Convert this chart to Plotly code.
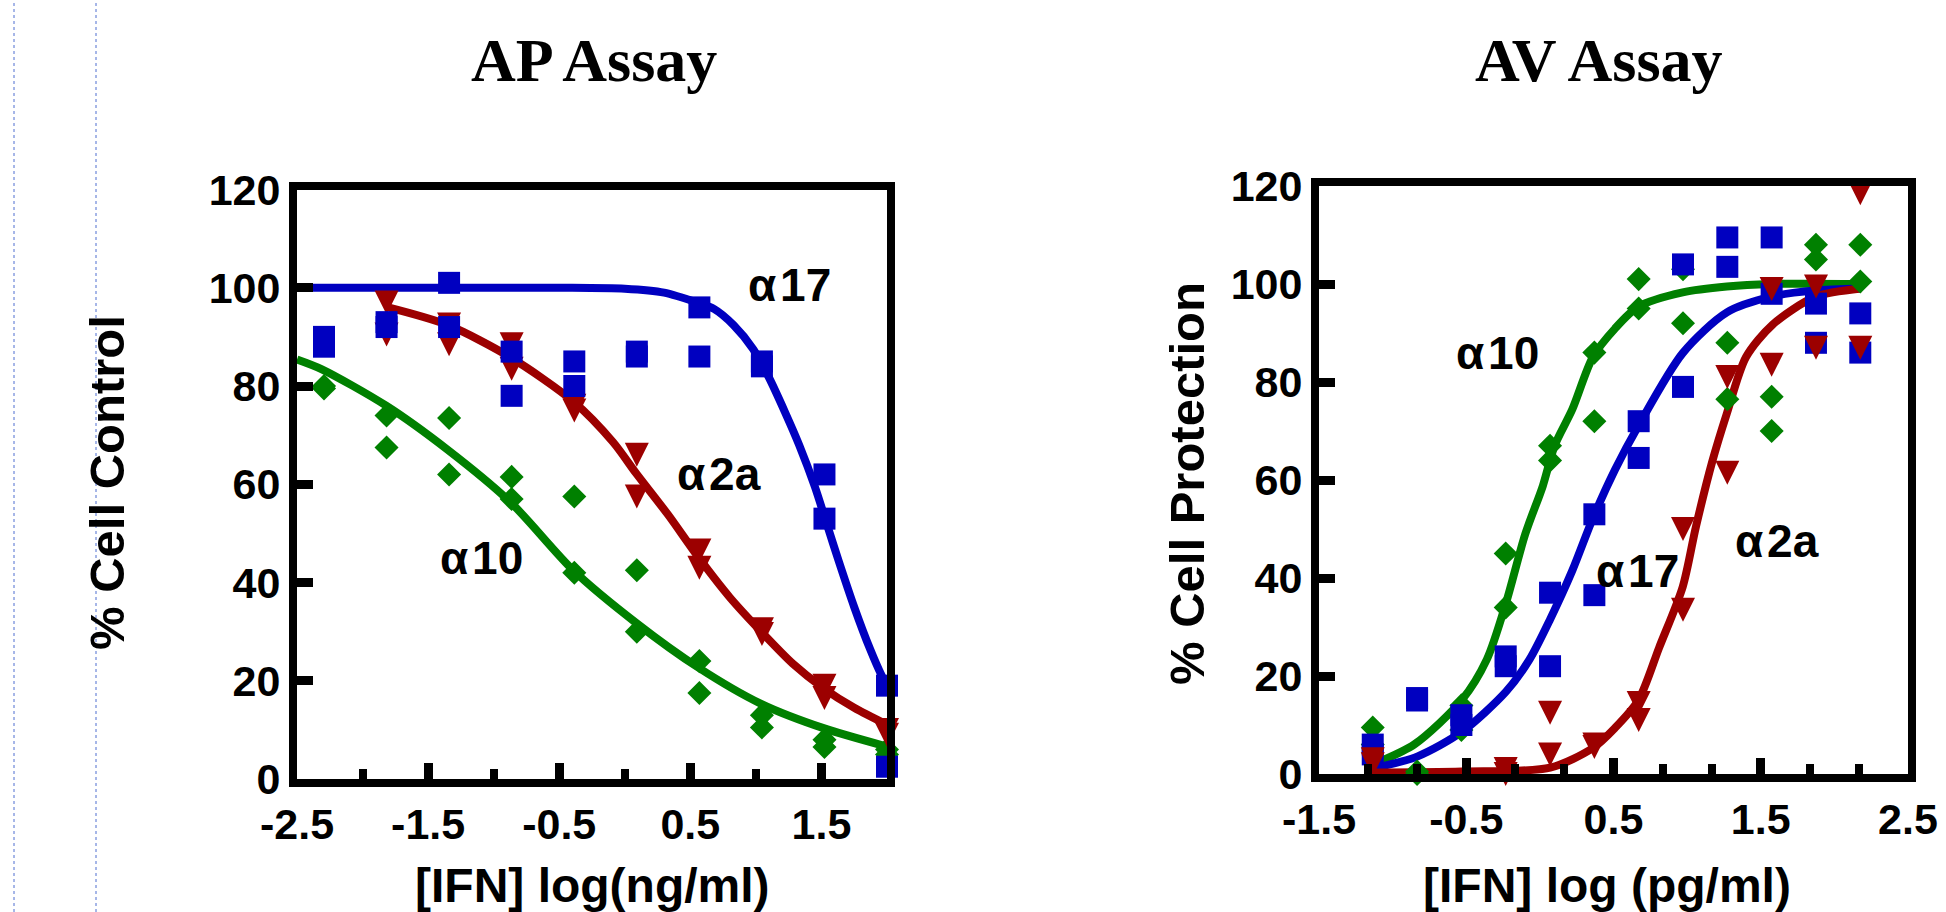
import plotly.graph_objects as go

W, H = 1946, 912

# ---------------- AP assay (3-fold dilutions, log ng/ml) ----------------
ap_doses = [-2.294, -1.817, -1.340, -0.863, -0.385, 0.092, 0.569, 1.046, 1.523, 2.0]

ap_a17_y = [(90, 88), (93, 92), (101, 92), (87, 78), (85, 80),
            (87, 86), (96, 86), (85, 84), (62, 53), (19, 2.5)]
ap_a2a_y = [None, (97, 90.5), (92.5, 88.5), (88.5, 83.5), (76, 75),
            (66, 57.5), (46.5, 43), (30.5, 29.5), (19, 16.5), (10, 9)]
ap_a10_y = [(80, 79.5), (74, 67.5), (73.5, 62), (61.5, 57), (57.5, 42),
            (42.5, 30), (24, 17.5), (13, 10.5), (8, 6.5), (6, 5)]

# fitted curves, sampled along the plotted fits
ap_a17_fit_x = [-2.5, -1.5, -0.5, 0.0, 0.3, 0.56, 0.68, 0.83, 0.98, 1.10, 1.22, 1.33, 1.45,
                1.54, 1.63, 1.75, 1.87, 1.96, 2.0]
ap_a17_fit_y = [100, 100, 100, 99.8, 99.0, 96.9, 95.7, 92.4, 87.5, 81.7, 74.8, 68.0, 59.5,
                52.0, 44.5, 35.0, 26.5, 21.0, 19.0]
ap_a2a_fit_x = [-1.82, -1.35, -0.87, -0.39, -0.09, 0.09, 0.33, 0.56, 0.80, 1.04, 1.28, 1.51,
                1.75, 2.02]
ap_a2a_fit_y = [96.1, 92.4, 85.8, 76.8, 68.6, 62.1, 53.8, 45.2, 37.0, 30.0, 23.5, 18.6,
                14.5, 10.8]
ap_a10_fit_x = [-2.5, -2.31, -1.82, -1.35, -0.87, -0.39, 0.09, 0.56, 1.04, 1.51, 2.04]
ap_a10_fit_y = [85.4, 83.4, 76.0, 67.0, 56.3, 42.4, 31.7, 22.7, 15.3, 10.4, 6.3]

ap_xticks = [-2.5, -1.5, -0.5, 0.5, 1.5]

# ---------------- AV assay (2-fold dilutions, log pg/ml) ----------------
av_doses = [-1.135, -0.834, -0.533, -0.232, 0.069, 0.370, 0.671, 0.972,
            1.273, 1.574, 1.875, 2.176]

av_a10_y = [(9.5, 6), (0, 0.5), (14, 9), (45, 34), (67, 64), (86, 72),
            (101, 95), (103, 92), (88, 76.5), (77, 70), (108, 105), (108, 100.5)]
av_a17_y = [(6, 4), (15.5, 15), (12, 10), (24, 22), (37, 22), (53, 36.5),
            (72, 64.5), (104, 79), (109.5, 103.5), (109.5, 98), (96, 88), (94, 86)]
av_a2a_y = [(3, 2), None, None, (1, 0), (12.5, 4), (6, 5.5),
            (14.5, 11), (50, 33.5), (81, 61.5), (99, 83.5), (99.5, 87), (118.5, 87)]

av_a10_fit_x = [-1.13, -0.85, -0.53, -0.36, -0.23, -0.10, 0.02, 0.10, 0.22, 0.36, 0.51,
                0.67, 0.97, 1.27, 1.57, 2.18]
av_a10_fit_y = [2.0, 6.1, 15.1, 23.4, 34.9, 48.9, 58.8, 67.0, 74.4, 85.1, 90.9,
                95.4, 98.3, 99.5, 100, 100]
av_a17_fit_x = [-1.13, -0.83, -0.53, -0.23, -0.07, 0.07, 0.22, 0.36, 0.51, 0.67, 0.97,
                1.27, 1.57, 1.87, 2.18]
av_a17_fit_y = [1.2, 3.6, 8.6, 16.8, 23.4, 31.6, 41.5, 52.2, 62.1, 71.1, 85.9,
                94.2, 97.4, 98.7, 99.1]
av_a2a_fit_x = [-1.13, -0.53, 0.07, 0.36, 0.51, 0.67, 0.81, 0.97, 1.06, 1.17, 1.27,
                1.40, 1.58, 1.87, 2.18]
av_a2a_fit_y = [0.3, 0.5, 1.3, 5.3, 9.4, 15.1, 25.8, 38.2, 50.5, 63.7, 73.6,
                85.1, 91.7, 97.4, 99.1]

av_xticks = [-1.5, -0.5, 0.5, 1.5, 2.5]
y_ticks = [0, 20, 40, 60, 80, 100, 120]

BLUE = "#0000C0"
RED = "#9C0000"
GREEN = "#008000"


def replicates(doses, pairs):
    xs, ys = [], []
    for d, p in zip(doses, pairs):
        if p is None:
            continue
        for v in p:
            xs.append(d)
            ys.append(v)
    return xs, ys


MARKERS = {
    "a17": dict(symbol="square", size=22, color=BLUE),
    "a10": dict(symbol="diamond", size=18.5, color=GREEN),
    "a2a": dict(symbol="arrow-down", size=24, color=RED, standoff=12),
}

fig = go.Figure()


def add_panel(xa, ya, doses, series, fits):
    for x, y, color in fits:
        fig.add_trace(go.Scatter(
            x=x, y=y, mode="lines", xaxis=xa, yaxis=ya,
            line=dict(color=color, width=8, shape="spline", smoothing=0.8),
            hoverinfo="skip", showlegend=False, cliponaxis=False))
    for key, pairs in series:
        xs, ys = replicates(doses, pairs)
        fig.add_trace(go.Scatter(
            x=xs, y=ys, mode="markers", xaxis=xa, yaxis=ya,
            marker=dict(line=dict(width=0), **MARKERS[key]),
            showlegend=False, cliponaxis=False))


add_panel("x", "y", ap_doses,
          [("a10", ap_a10_y), ("a2a", ap_a2a_y), ("a17", ap_a17_y)],
          [(ap_a10_fit_x, ap_a10_fit_y, GREEN),
           (ap_a2a_fit_x, ap_a2a_fit_y, RED),
           (ap_a17_fit_x, ap_a17_fit_y, BLUE)])
add_panel("x2", "y2", av_doses,
          [("a10", av_a10_y), ("a17", av_a17_y), ("a2a", av_a2a_y)],
          [(av_a10_fit_x, av_a10_fit_y, GREEN),
           (av_a17_fit_x, av_a17_fit_y, BLUE),
           (av_a2a_fit_x, av_a2a_fit_y, RED)])

TICK_FONT = dict(family="Liberation Sans, Arial, sans-serif", size=43, color="black",
                 weight="bold")
LW = 8


def px_dom_x(a, b):
    return [a / W, b / W]


def px_dom_y(top, bottom):
    return [1 - bottom / H, 1 - top / H]


def tick_text(vals):
    # plain hyphen-minus labels
    return [f"{v:g}" for v in vals]


common_axis = dict(showline=True, linecolor="black", linewidth=LW, mirror=True,
                   showgrid=False, zeroline=False, ticks="inside", tickcolor="black",
                   tickwidth=9, ticklen=16, tickfont=TICK_FONT, automargin=False,
                   fixedrange=True, tickmode="array")

fig.update_layout(
    width=W, height=H,
    margin=dict(l=0, r=0, t=0, b=0),
    paper_bgcolor="white", plot_bgcolor="white",
    showlegend=False,
    xaxis=dict(domain=px_dom_x(297, 887), range=[-2.5, 2.0],
               tickvals=ap_xticks, ticktext=tick_text(ap_xticks), anchor="y",
               minor=dict(tickmode="linear", tick0=-2.5, dtick=0.5, ticks="inside",
                          ticklen=10, tickwidth=8, tickcolor="black"),
               **common_axis),
    yaxis=dict(domain=px_dom_y(189.5, 779), range=[0, 120],
               tickvals=y_ticks, ticktext=tick_text(y_ticks), anchor="x", **common_axis),
    xaxis2=dict(domain=px_dom_x(1319, 1908), range=[-1.5, 2.5],
                tickvals=av_xticks, ticktext=tick_text(av_xticks), anchor="y2",
                minor=dict(tickmode="linear", tick0=-1.5, dtick=1 / 3, ticks="inside",
                           ticklen=10, tickwidth=8, tickcolor="black"),
                **common_axis),
    yaxis2=dict(domain=px_dom_y(186, 774), range=[0, 120],
                tickvals=y_ticks, ticktext=tick_text(y_ticks), anchor="x2", **common_axis),
)

SANS = "Liberation Sans, Arial, sans-serif"
SERIF = "Liberation Serif, Times New Roman, serif"


def note(text, x, y, size, family=SANS, angle=0, xref="paper", yref="paper"):
    if xref == "paper":
        x = x / W
        y = 1 - y / H
    fig.add_annotation(text=text, x=x, y=y, xref=xref, yref=yref, showarrow=False,
                       textangle=angle, xanchor="center", yanchor="middle",
                       font=dict(family=family, size=size, color="black", weight="bold"))


# panel titles
note("AP Assay", 594, 60, 62, family=SERIF)
note("AV Assay", 1599, 60, 62, family=SERIF)

# axis titles
note("% Cell Control", 107, 483, 49, angle=-90)
note("% Cell Protection", 1187, 484, 49, angle=-90)
note("[IFN] log(ng/ml)", 592, 885, 48)
note("[IFN] log (pg/ml)", 1607, 885, 48)

# curve labels
HAIR = "\u200a"
note(f"α{HAIR}17", 1.26, 100.5, 46, xref="x", yref="y")
note(f"α{HAIR}2a", 0.72, 62, 46, xref="x", yref="y")
note(f"α{HAIR}10", -1.09, 45, 46, xref="x", yref="y")
note(f"α{HAIR}10", -0.29, 86, 46, xref="x2", yref="y2")
note(f"α{HAIR}17", 0.66, 41.5, 46, xref="x2", yref="y2")
note(f"α{HAIR}2a", 1.61, 47.5, 46, xref="x2", yref="y2")

# dotted page guides at the left edge
for gx in (14, 96):
    fig.add_shape(type="line", xref="paper", yref="paper", x0=gx / W, x1=gx / W,
                  y0=0, y1=1, line=dict(color="#4F6FD0", width=1, dash="dot"))

fig.write_html("out.html")
